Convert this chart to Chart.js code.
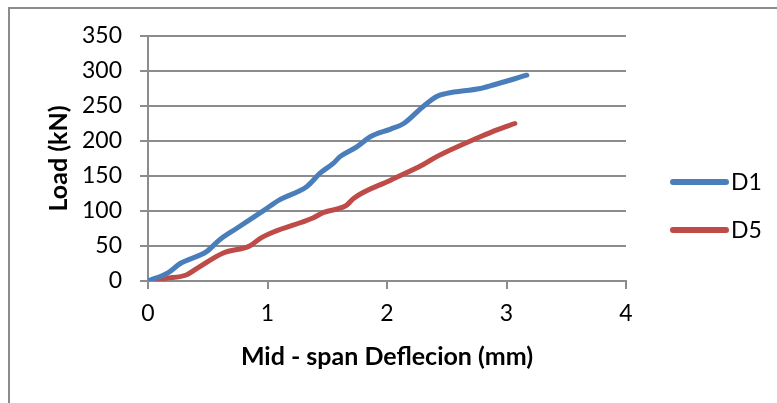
<!DOCTYPE html>
<html>
<head>
<meta charset="utf-8">
<script src="https://cdn.jsdelivr.net/npm/chart.js@4"></script>
<style>
  html, body { margin: 0; padding: 0; background: #fff; overflow: hidden; }
  #wrap { position: relative; width: 777px; height: 403px; }
  #frame {
    position: absolute; left: 8px; top: 7px; width: 900px; height: 500px;
    border-left: 2px solid #8c8c8c; border-top: 2px solid #8c8c8c;
  }
  canvas { position: absolute; left: 0; top: 0; }
</style>
</head>
<body>
<div id="wrap">
  <div id="frame"></div>
  <canvas id="loadChart" width="777" height="403"></canvas>
</div>
<script>
// Load vs mid-span deflection for the two specimens
var seriesNames = ['D1', 'D5'];
var d1Deflection = [0, 0.17, 0.27, 0.49, 0.60, 0.74, 0.97, 1.10, 1.33, 1.44, 1.55, 1.61, 1.75, 1.86, 2.03, 2.14, 2.30, 2.42, 2.50, 2.78, 2.89, 3.17];
var d1Load = [0, 12, 25, 42, 59, 75, 101, 116, 135, 154, 168, 178, 192, 206, 217, 225, 249, 264, 268, 275, 280, 294];
var d5Deflection = [0, 0.15, 0.32, 0.41, 0.63, 0.85, 0.94, 1.05, 1.38, 1.47, 1.66, 1.72, 2.03, 2.30, 2.42, 2.78, 2.92, 3.07];
var d5Load = [0, 4, 8.6, 18, 40, 50, 61, 70, 90, 98, 108, 118, 144, 166, 178, 206, 216, 225];
var xTicks = [0, 1, 2, 3, 4];
var yTicks = [0, 50, 100, 150, 200, 250, 300, 350];

var colors = ['#4a7ebb', '#be4b48'];
var gridColor = '#8c8c8c';
var fontFamily = 'Lato, "Open Sans", sans-serif';

function toPoints(xs, ys) {
    return xs.map(function (x, i) { return { x: x, y: ys[i] }; });
}

// simple line legend on the right of the plot
var sideLegend = {
    id: 'sideLegend',
    afterDraw: function (chart) {
        var c = chart.ctx;
        c.save();
        chart.data.datasets.forEach(function (ds, i) {
            var y = 182 + i * 48;
            c.strokeStyle = ds.borderColor;
            c.lineWidth = 6;
            c.lineCap = 'round';
            c.beginPath();
            c.moveTo(673, y);
            c.lineTo(726, y);
            c.stroke();
            c.fillStyle = '#000';
            c.font = '23px ' + fontFamily;
            c.textBaseline = 'middle';
            c.textAlign = 'left';
            c.fillText(ds.label, 731, y + 1);
        });
        c.restore();
    }
};

var ctx = document.getElementById('loadChart').getContext('2d');
var chart = new Chart(ctx, {
    type: 'line',
    data: {
        datasets: [{
            label: seriesNames[0],
            data: toPoints(d1Deflection, d1Load),
            borderColor: colors[0],
            backgroundColor: colors[0]
        }, {
            label: seriesNames[1],
            data: toPoints(d5Deflection, d5Load),
            borderColor: colors[1],
            backgroundColor: colors[1]
        }]
    },
    options: {
        responsive: false,
        animation: false,
        layout: { padding: { left: 0, top: 36, right: 151, bottom: 0 } },
        elements: {
            point: { radius: 0 },
            line: { borderWidth: 5, tension: 0.4, cubicInterpolationMode: 'monotone', borderCapStyle: 'round', borderJoinStyle: 'round' }
        },
        plugins: {
            legend: { display: false },
            tooltip: { enabled: false }
        },
        scales: {
            x: {
                type: 'linear',
                min: xTicks[0],
                max: xTicks[xTicks.length - 1],
                afterBuildTicks: function (scale) {
                    scale.ticks = xTicks.map(function (v) { return { value: v }; });
                },
                afterFit: function (scale) { scale.height = 122; },
                grid: { drawOnChartArea: false, drawTicks: true, tickLength: 8, color: gridColor, lineWidth: 2 },
                border: { color: gridColor, width: 2 },
                ticks: { color: '#000', font: { family: fontFamily, size: 23 }, padding: 11, maxRotation: 0 },
                title: {
                    display: true,
                    text: 'Mid - span Deflecion (mm)',
                    color: '#000',
                    font: { family: fontFamily, size: 25, weight: 'bold' },
                    padding: { top: 0, bottom: 31 }
                }
            },
            y: {
                min: yTicks[0],
                max: yTicks[yTicks.length - 1],
                afterBuildTicks: function (scale) {
                    scale.ticks = yTicks.map(function (v) { return { value: v }; });
                },
                afterFit: function (scale) { scale.width = 148; },
                grid: { color: gridColor, lineWidth: 2, tickLength: 8 },
                border: { color: gridColor, width: 2 },
                ticks: { color: '#000', font: { family: fontFamily, size: 23 }, padding: 18 },
                title: {
                    display: true,
                    text: 'Load (kN)',
                    color: '#000',
                    font: { family: fontFamily, size: 25, weight: 'bold' },
                    padding: { top: 44, bottom: 0 }
                }
            }
        }
    },
    plugins: [sideLegend]
});
</script>
</body>
</html>
